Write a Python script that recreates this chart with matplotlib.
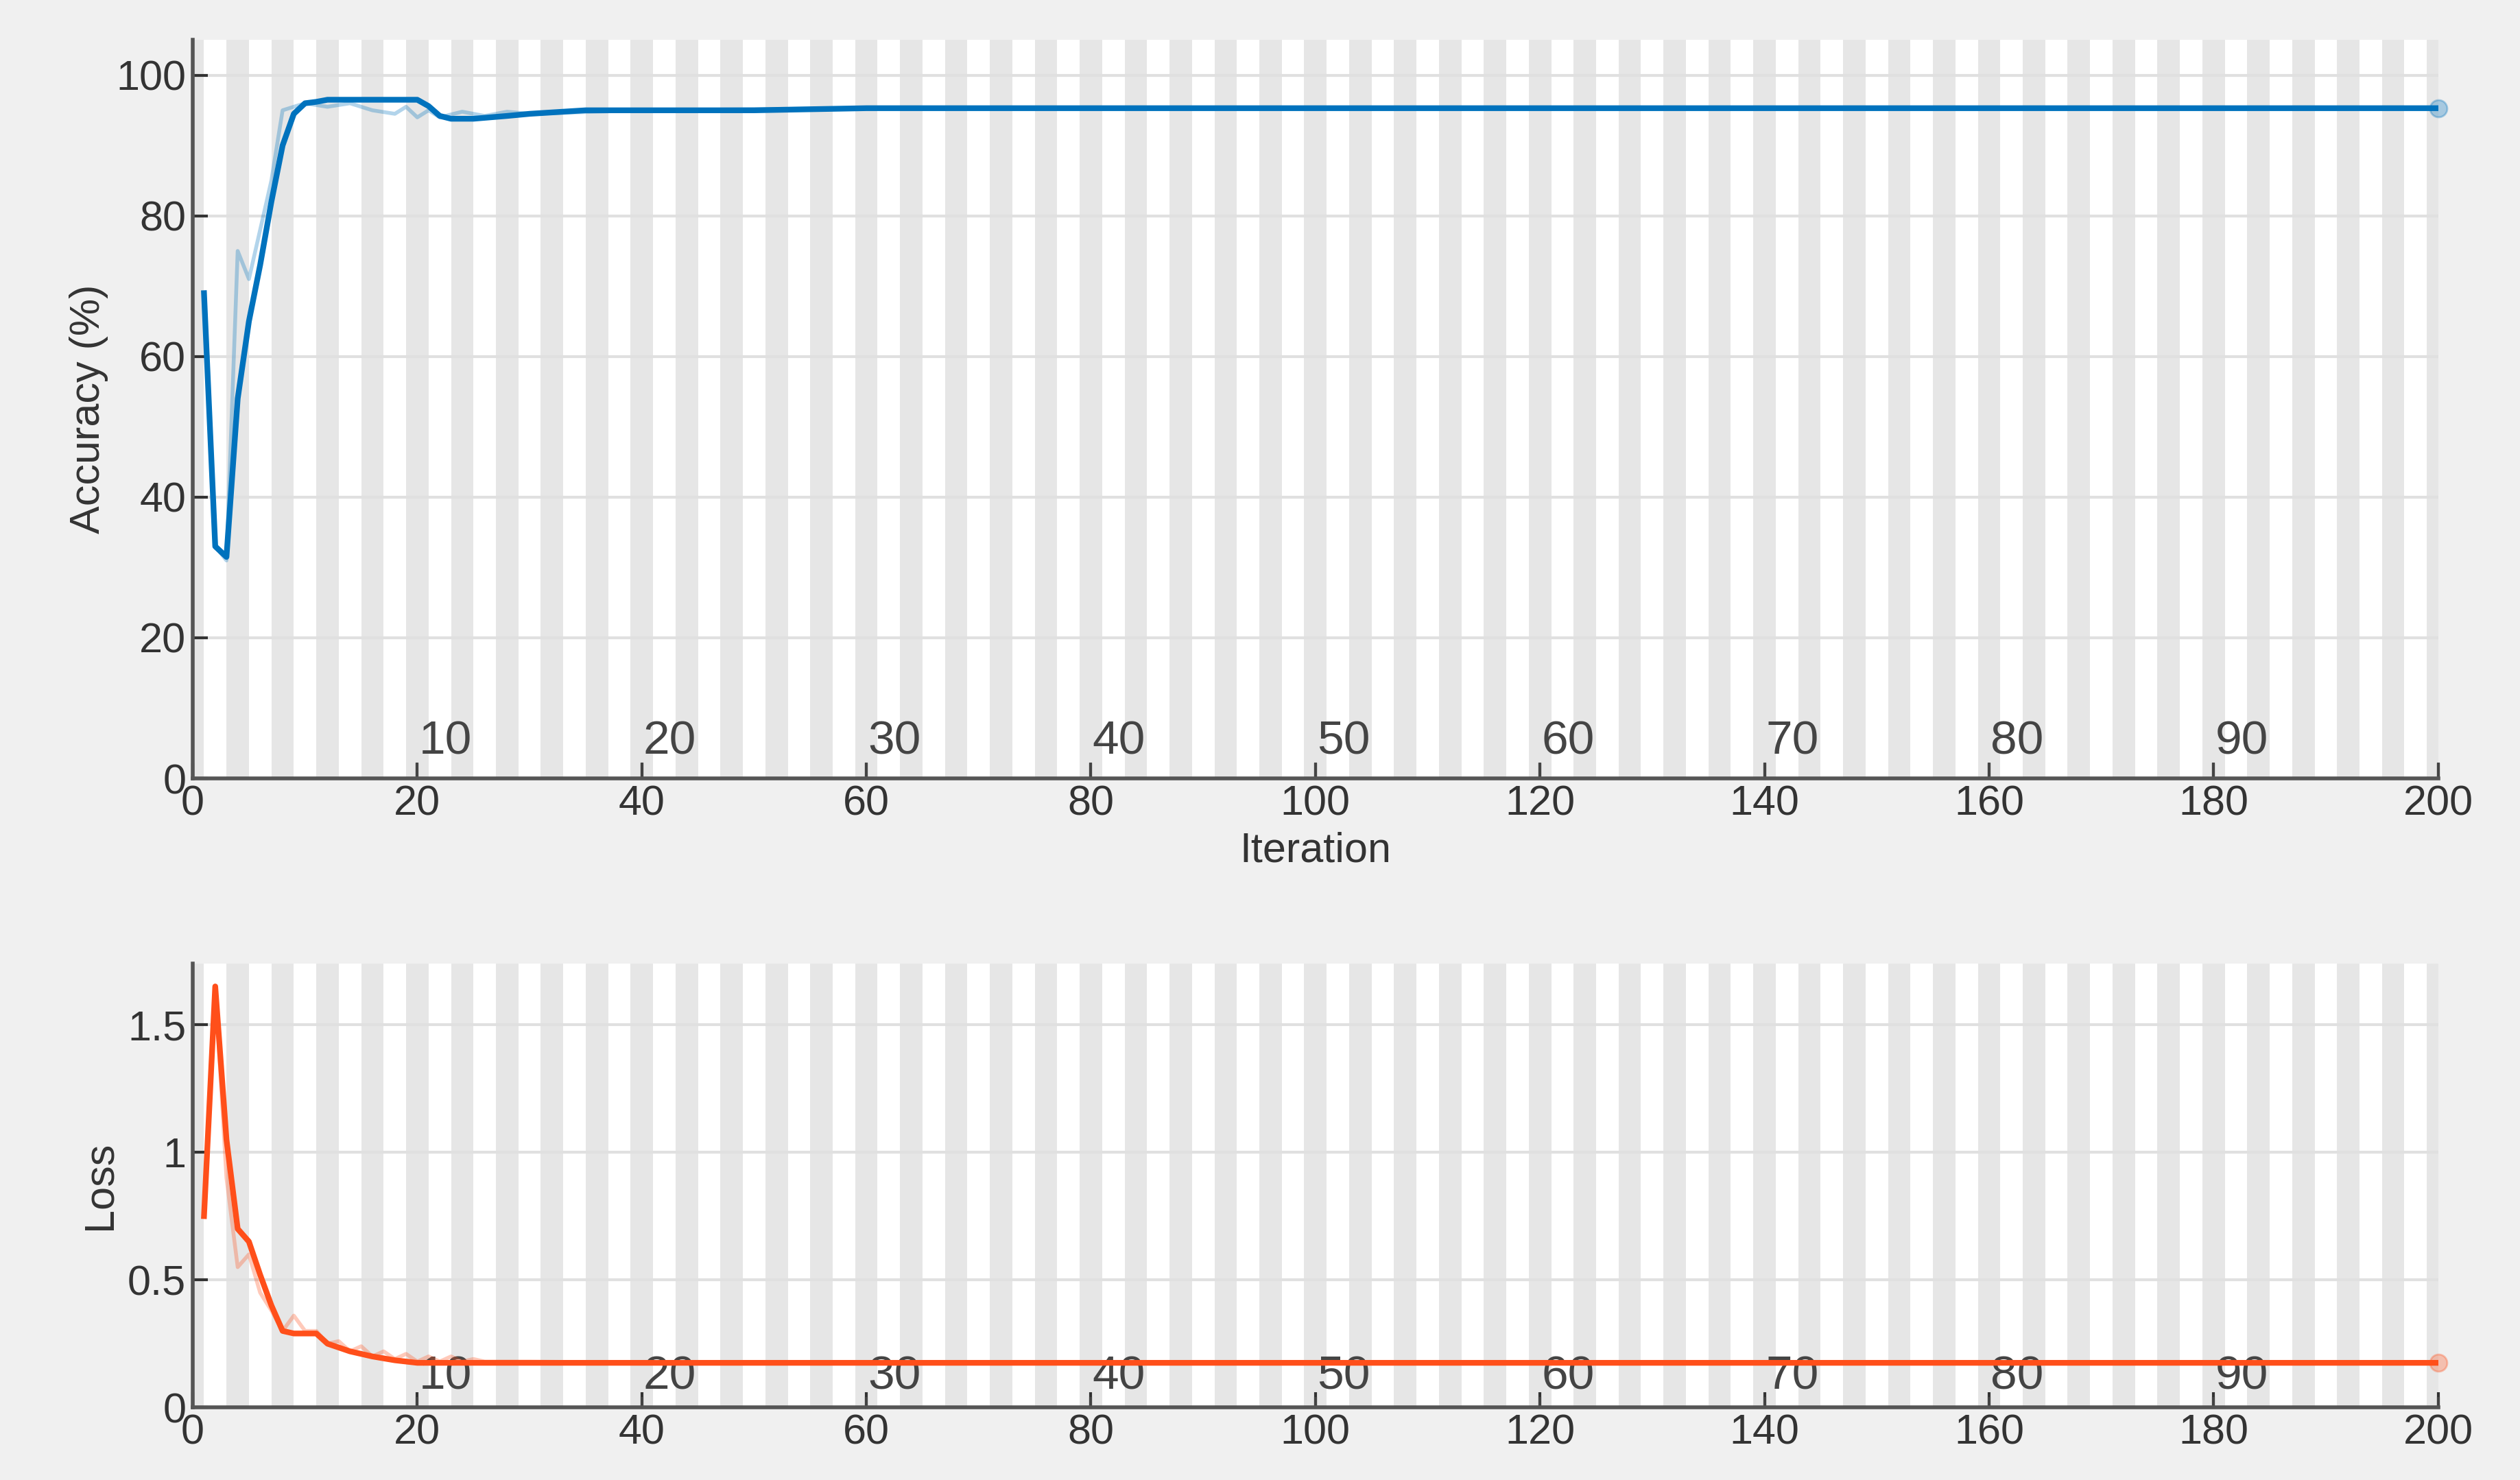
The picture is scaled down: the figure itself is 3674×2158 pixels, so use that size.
import matplotlib
matplotlib.use("Agg")
import matplotlib.pyplot as plt

plt.rcParams['font.family'] = ['Liberation Sans', 'DejaVu Sans']

# Accuracy (smoothed and raw) vs iteration
acc_iter = [1, 2, 3, 4, 5, 6, 7, 8, 9, 10, 11, 12, 14, 16, 18, 20, 21, 22, 23, 25, 28, 30, 35, 40, 50, 60, 100, 150, 200]
acc_smooth = [69, 33, 31.5, 54, 65, 73, 82, 90, 94.5, 96, 96.2, 96.5, 96.5, 96.5, 96.5, 96.5, 95.6, 94.2, 93.8, 93.8, 94.2, 94.5, 95, 95, 95, 95.3, 95.3, 95.3, 95.3]
acc_raw_iter = [1, 2, 3, 4, 5, 6, 7, 8, 9, 10, 12, 14, 16, 18, 19, 20, 21, 22, 24, 26, 28, 30, 40, 60, 200]
acc_raw = [69, 33, 31, 75, 71, 78, 85, 95, 95.5, 96, 95.5, 96, 95, 94.5, 95.5, 94, 95, 94, 94.8, 94.2, 94.8, 94.5, 95, 95.3, 95.3]

# Loss (smoothed and raw)
loss_iter = [1, 2, 3, 4, 5, 6, 7, 8, 9, 10, 11, 12, 14, 16, 18, 20, 25, 40, 100, 200]
loss_smooth = [0.75, 1.65, 1.05, 0.7, 0.65, 0.52, 0.4, 0.3, 0.29, 0.29, 0.29, 0.25, 0.22, 0.2, 0.185, 0.175, 0.175, 0.175, 0.175, 0.175]
loss_raw_iter = [1, 2, 3, 4, 5, 6, 7, 8, 9, 10, 11, 12, 13, 14, 15, 16, 17, 18, 19, 20, 21, 22, 23, 24, 25, 26, 30, 40, 200]
loss_raw = [0.75, 1.65, 0.9, 0.55, 0.6, 0.45, 0.38, 0.3, 0.36, 0.3, 0.3, 0.25, 0.26, 0.22, 0.24, 0.2, 0.22, 0.19, 0.21, 0.18, 0.2, 0.18, 0.2, 0.18, 0.19, 0.18, 0.18, 0.175, 0.175]

epoch_labels = ['10', '20', '30', '40', '50', '60', '70', '80', '90', '1']
epoch_pos = [20, 40, 60, 80, 100, 120, 140, 160, 180, 200]

BG = '#f0f0f0'
fig = plt.figure(figsize=(18.37, 10.79), dpi=200, facecolor=BG)
ax1 = fig.add_axes([0.0765, 0.474, 0.891, 0.499])
ax2 = fig.add_axes([0.0765, 0.049, 0.891, 0.30])

def style(ax, ymax, yticks, yticklabels, ylabel):
    ax.set_facecolor('white')
    ax.set_xlim(0, 200)
    ax.set_ylim(0, ymax)
    for k in range(0, 51):
        ax.axvspan(4 * k - 1, 4 * k + 1, color='#e6e6e6', lw=0, zorder=0)
    ax.set_yticks(yticks)
    ax.set_yticklabels(yticklabels)
    ax.set_xticks(range(0, 201, 20))
    ax.grid(axis='y', color='#e0e0e0', lw=1.5, zorder=1)
    ax.set_axisbelow(True)
    for s in ['top', 'right']:
        ax.spines[s].set_visible(False)
    for s in ['left', 'bottom']:
        ax.spines[s].set_color('#555555')
        ax.spines[s].set_linewidth(2)
    ax.tick_params(colors='#333333', labelsize=22, length=8, width=1.5, direction='in')
    ax.set_ylabel(ylabel, fontsize=22, color='#333333')
    for p, l in zip(epoch_pos, epoch_labels):
        ax.text(p + 2.5, ymax * 0.02, l, fontsize=25, color='#444444', ha='center', va='bottom', zorder=2, clip_on=True)
        ax.plot([p, p], [0, ymax * 0.02], color='#444444', lw=1.5, clip_on=False, zorder=2)

style(ax1, 105, [0, 20, 40, 60, 80, 100], ['0', '20', '40', '60', '80', '100'], 'Accuracy (%)')
style(ax2, 1.74, [0, 0.5, 1, 1.5], ['0', '0.5', '1', '1.5'], 'Loss')
ax1.set_xlabel('Iteration', fontsize=22, color='#333333')

ax1.plot(acc_raw_iter, acc_raw, color='#0072bd', alpha=0.3, lw=2, zorder=3)
ax1.plot(acc_iter, acc_smooth, color='#0072bd', lw=3, zorder=4)
ax1.plot([acc_iter[-1]], [acc_smooth[-1]], 'o', color='#0072bd', alpha=0.3, ms=9, zorder=5, clip_on=False)

ax2.plot(loss_raw_iter, loss_raw, color='#ff4f1a', alpha=0.3, lw=2, zorder=3)
ax2.plot(loss_iter, loss_smooth, color='#ff4f1a', lw=3, zorder=4)
ax2.plot([loss_iter[-1]], [loss_smooth[-1]], 'o', color='#ff4f1a', alpha=0.3, ms=9, zorder=5, clip_on=False)

fig.savefig('out.png', dpi=200, facecolor=BG)
